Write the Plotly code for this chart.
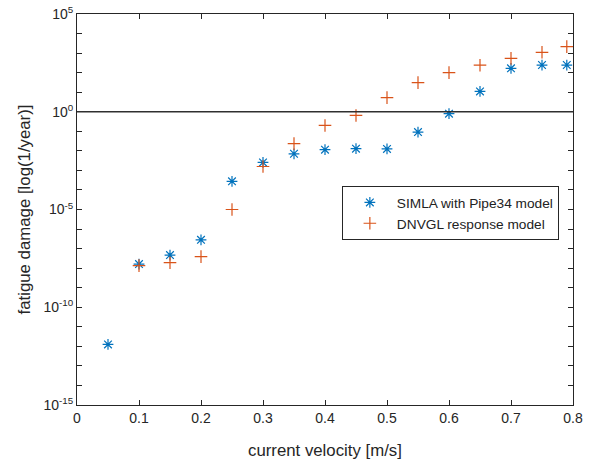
import plotly.graph_objects as go

velocity = [0.05, 0.10, 0.15, 0.20, 0.25, 0.30, 0.35, 0.40, 0.45, 0.50, 0.55, 0.60, 0.65, 0.70, 0.75, 0.79]
simla_log = [-11.9, -7.79, -7.33, -6.55, -3.56, -2.59, -2.15, -1.94, -1.89, -1.90, -1.04, -0.10, 1.04, 2.22, 2.39, 2.39]

dnv_velocity = [0.10, 0.15, 0.20, 0.25, 0.30, 0.35, 0.40, 0.45, 0.50, 0.55, 0.60, 0.65, 0.70, 0.75, 0.79]
dnv_log = [-7.87, -7.72, -7.41, -5.0, -2.8, -1.63, -0.70, -0.19, 0.72, 1.49, 2.0, 2.38, 2.73, 3.04, 3.33]

simla = [10 ** v for v in simla_log]
dnv = [10 ** v for v in dnv_log]

major_decades = [-15, -10, -5, 0, 5]
minor_decades = list(range(-15, 6))
ytext = [f"10<sup>{d}</sup>" for d in major_decades]
xticks = [0, 0.1, 0.2, 0.3, 0.4, 0.5, 0.6, 0.7, 0.8]
xtext = ["0", "0.1", "0.2", "0.3", "0.4", "0.5", "0.6", "0.7", "0.8"]

axcol = "#262626"
font = "Liberation Sans, Arial, sans-serif"

fig = go.Figure()
fig.add_trace(go.Scatter(
    x=velocity, y=simla, mode="markers", name="SIMLA with Pipe34 model",
    marker=dict(symbol="asterisk-open", size=9, color="#0072BD", line=dict(color="#0072BD", width=1.2)),
))
fig.add_trace(go.Scatter(
    x=dnv_velocity, y=dnv, mode="markers", name="DNVGL response model",
    marker=dict(symbol="cross-thin-open", size=9, color="#D95319", line=dict(color="#D95319", width=1.2)),
))

fig.add_shape(type="line", xref="paper", yref="y", x0=0, x1=1, y0=1, y1=1,
              line=dict(color="#303030", width=1.3))

fig.add_annotation(text="current velocity [m/s]", xref="paper", yref="paper",
                   x=0.5, y=-0.117, xanchor="center", yanchor="middle", showarrow=False,
                   font=dict(family=font, size=16.8, color=axcol))

fig.update_layout(
    width=591, height=459,
    margin=dict(l=77, r=18, t=14, b=54),
    paper_bgcolor="white", plot_bgcolor="white",
    font=dict(family=font, size=14, color=axcol),
    showlegend=True,
    legend=dict(
        x=0.534, y=0.56, xanchor="left", yanchor="top",
        bgcolor="white", bordercolor=axcol, borderwidth=1,
        font=dict(family=font, size=13.7, color="#222"),
        tracegroupgap=0, itemwidth=44,
    ),
    xaxis=dict(
        range=[0, 0.8], tickvals=xticks, ticktext=xtext, automargin=False,
        ticks="inside", ticklen=5, tickcolor=axcol, mirror="ticks",
        showline=True, linecolor=axcol, linewidth=1, showgrid=False, zeroline=False,
        tickfont=dict(size=14, color=axcol),
    ),
    yaxis=dict(
        type="log", range=[-15, 5], tickvals=[10 ** d for d in major_decades], ticktext=ytext,
        ticks="inside", ticklen=5, tickcolor=axcol, mirror="ticks", automargin=False,
        minor=dict(tickvals=[10 ** d for d in minor_decades], ticks="inside", ticklen=5,
                   tickcolor=axcol, showgrid=False),
        showline=True, linecolor=axcol, linewidth=1, showgrid=False, zeroline=False,
        title=dict(text="fatigue damage [log(1/year)]", font=dict(size=16.8, color=axcol), standoff=8),
        tickfont=dict(size=14, color=axcol),
    ),
)

fig.write_html("out.html")
